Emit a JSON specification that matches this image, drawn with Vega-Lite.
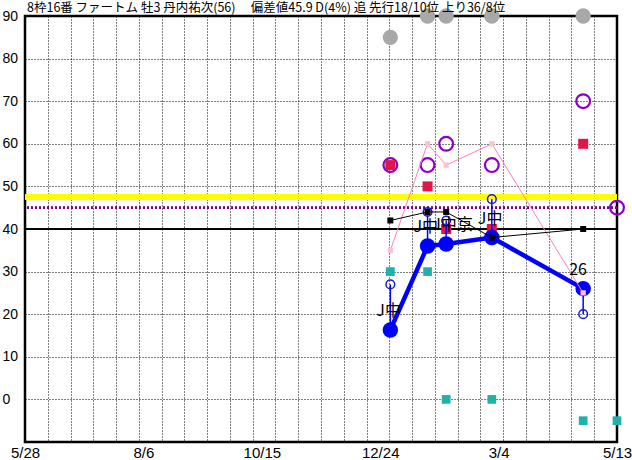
{
  "$schema": "https://vega.github.io/schema/vega-lite/v6.json",
  "width": 592,
  "height": 426,
  "autosize": {"type": "none"},
  "padding": {"left": 25, "top": 16, "right": 15, "bottom": 18},
  "background": "#ffffff",
  "title": {
    "text": "8枠16番 ファートム 牡3 丹内祐次(56)　 偏差値45.9 D(4%) 追 先行18/10位 上り36/8位",
    "anchor": "start",
    "frame": "group",
    "orient": "top",
    "baseline": "bottom",
    "offset": 3,
    "dx": 2,
    "dy": 22,
    "font": "Noto Sans CJK JP",
    "fontSize": 12.5,
    "fontWeight": "normal",
    "color": "#000000"
  },
  "config": {
    "view": {"stroke": "#000000", "strokeWidth": 2.5},
    "axis": {"title": null}
  },
  "data": {
    "values": [
      {"date": "2022-12-30", "gray": 85, "red": 55, "purple": 55, "pink": 35, "black": 42, "open": 27, "filled": 16.3, "teal": 30, "label": "J中"},
      {"date": "2023-01-21", "gray": 90, "red": 50, "purple": 55, "pink": 60, "black": 44, "open": 44, "filled": 36, "teal": 30, "label": "J中"},
      {"date": "2023-02-01", "gray": 90, "red": 40, "purple": 60, "pink": 55, "black": 44, "open": 42, "filled": 36.5, "teal": 0, "label": "J中京"},
      {"date": "2023-02-28", "gray": 90, "red": 40, "purple": 55, "pink": 60, "black": 38, "open": 47, "filled": 38, "teal": 0, "label": "J中"},
      {"date": "2023-04-23", "gray": 90, "red": 60, "purple": 70, "pink": 25, "black": 40, "open": 20, "filled": 26, "teal": -5, "label": "26"},
      {"date": "2023-05-13", "gray": null, "red": null, "purple": 45, "pink": null, "black": null, "open": null, "filled": null, "teal": -5, "label": null}
    ]
  },
  "resolve": {"scale": {"x": "shared", "y": "shared"}, "axis": {"x": "independent"}},
  "layer": [
    {
      "mark": {"type": "rule", "color": "#ffff00", "strokeWidth": 5},
      "encoding": {"y": {"datum": 47.5, "type": "quantitative", "title": null,
        "scale": {"domain": [-10, 90], "nice": false, "zero": false},
        "axis": {"values": [0, 10, 20, 30, 40, 50, 60, 70, 80, 90], "grid": true, "gridDash": [1, 2], "gridColor": "#000000", "gridOpacity": 1, "domain": false, "ticks": false, "tickSize": 0, "labelAlign": "left", "labelPadding": 23, "labelFontSize": 14, "labelFont": "Liberation Sans", "labelColor": "#000000", "labelFlush": false, "title": null}}}
    },
    {
      "mark": {"type": "rule", "color": "#800080", "strokeWidth": 2, "strokeDash": [2, 2]},
      "encoding": {"y": {"datum": 45, "type": "quantitative", "title": null}}
    },
    {
      "mark": {"type": "rule", "color": "#000000", "strokeWidth": 1},
      "encoding": {"y": {"datum": 40, "type": "quantitative", "title": null}}
    },
    {
      "mark": {"type": "point", "shape": "circle", "filled": true, "color": "#a8a8a8", "size": 235, "opacity": 1},
      "encoding": {
        "x": {"field": "date", "type": "temporal", "title": null,
          "scale": {"type": "utc", "domain": [1653696000000, 1683936000000]},
          "axis": {"orient": "bottom", "values": [1653696000000, 1654859076923, 1656022153846, 1657185230769, 1658348307692, 1659511384615, 1660674461538, 1661837538462, 1663000615385, 1664163692308, 1665326769231, 1666489846154, 1667652923077, 1668816000000, 1669979076923, 1671142153846, 1672305230769, 1673468307692, 1674631384615, 1675794461538, 1676957538462, 1678120615385, 1679283692308, 1680446769231, 1681609846154, 1682772923077, 1683936000000],
            "labels": false, "ticks": false, "tickSize": 0, "domain": false, "grid": true, "gridDash": [1, 2], "gridColor": "#000000", "gridOpacity": 1, "title": null}},
        "y": {"field": "gray", "type": "quantitative", "title": null}
      }
    },
    {
      "mark": {"type": "point", "shape": "circle", "filled": false, "color": "#8a00c8", "strokeWidth": 2.2, "size": 190, "opacity": 1},
      "encoding": {
        "x": {"field": "date", "type": "temporal", "title": null,
          "axis": {"orient": "bottom", "values": [1653696000000, 1659744000000, 1665792000000, 1671840000000, 1677888000000, 1683936000000],
            "labelExpr": "utcFormat(datum.value, '%-m/%-d')",
            "grid": false, "ticks": false, "tickSize": 0, "domain": false, "labelPadding": 3, "labelFontSize": 15, "labelFont": "Liberation Sans", "labelColor": "#000000", "labelFlush": false, "labelOverlap": false, "title": null}},
        "y": {"field": "purple", "type": "quantitative", "title": null}
      }
    },
    {
      "mark": {"type": "point", "shape": "square", "filled": true, "color": "#e0164a", "size": 100, "opacity": 1},
      "encoding": {
        "x": {"field": "date", "type": "temporal", "axis": null},
        "y": {"field": "red", "type": "quantitative", "title": null}
      }
    },
    {
      "mark": {"type": "point", "shape": "square", "filled": true, "color": "#20b2aa", "size": 76, "opacity": 1},
      "encoding": {
        "x": {"field": "date", "type": "temporal", "axis": null},
        "y": {"field": "teal", "type": "quantitative", "title": null}
      }
    },
    {
      "mark": {"type": "rule", "color": "#0000ff", "strokeWidth": 1.5},
      "encoding": {
        "x": {"field": "date", "type": "temporal", "axis": null},
        "y": {"field": "open", "type": "quantitative", "title": null},
        "y2": {"field": "filled"}
      }
    },
    {
      "mark": {"type": "line", "color": "#0000ff", "strokeWidth": 4.5},
      "encoding": {
        "x": {"field": "date", "type": "temporal", "axis": null},
        "y": {"field": "filled", "type": "quantitative", "title": null}
      }
    },
    {
      "mark": {"type": "point", "shape": "circle", "filled": true, "color": "#0000ff", "size": 240, "opacity": 1},
      "encoding": {
        "x": {"field": "date", "type": "temporal", "axis": null},
        "y": {"field": "filled", "type": "quantitative", "title": null}
      }
    },
    {
      "mark": {"type": "point", "shape": "circle", "filled": false, "color": "#1a1acc", "strokeWidth": 1.5, "size": 75, "opacity": 1},
      "encoding": {
        "x": {"field": "date", "type": "temporal", "axis": null},
        "y": {"field": "open", "type": "quantitative", "title": null}
      }
    },
    {
      "mark": {"type": "line", "color": "#ff80b8", "strokeWidth": 1},
      "encoding": {
        "x": {"field": "date", "type": "temporal", "axis": null},
        "y": {"field": "pink", "type": "quantitative", "title": null}
      }
    },
    {
      "mark": {"type": "point", "shape": "square", "filled": true, "color": "#ffc0d0", "size": 28, "opacity": 1},
      "encoding": {
        "x": {"field": "date", "type": "temporal", "axis": null},
        "y": {"field": "pink", "type": "quantitative", "title": null}
      }
    },
    {
      "mark": {"type": "line", "color": "#000000", "strokeWidth": 1},
      "encoding": {
        "x": {"field": "date", "type": "temporal", "axis": null},
        "y": {"field": "black", "type": "quantitative", "title": null}
      }
    },
    {
      "mark": {"type": "point", "shape": "square", "filled": true, "color": "#000000", "size": 36, "opacity": 1},
      "encoding": {
        "x": {"field": "date", "type": "temporal", "axis": null},
        "y": {"field": "black", "type": "quantitative", "title": null}
      }
    },
    {
      "mark": {"type": "text", "align": "left", "baseline": "middle", "dx": -14, "dy": -19, "font": "Noto Sans CJK JP", "fontSize": 16, "color": "#000000"},
      "encoding": {
        "x": {"field": "date", "type": "temporal", "axis": null},
        "y": {"field": "filled", "type": "quantitative", "title": null},
        "text": {"field": "label"}
      }
    }
  ]
}
